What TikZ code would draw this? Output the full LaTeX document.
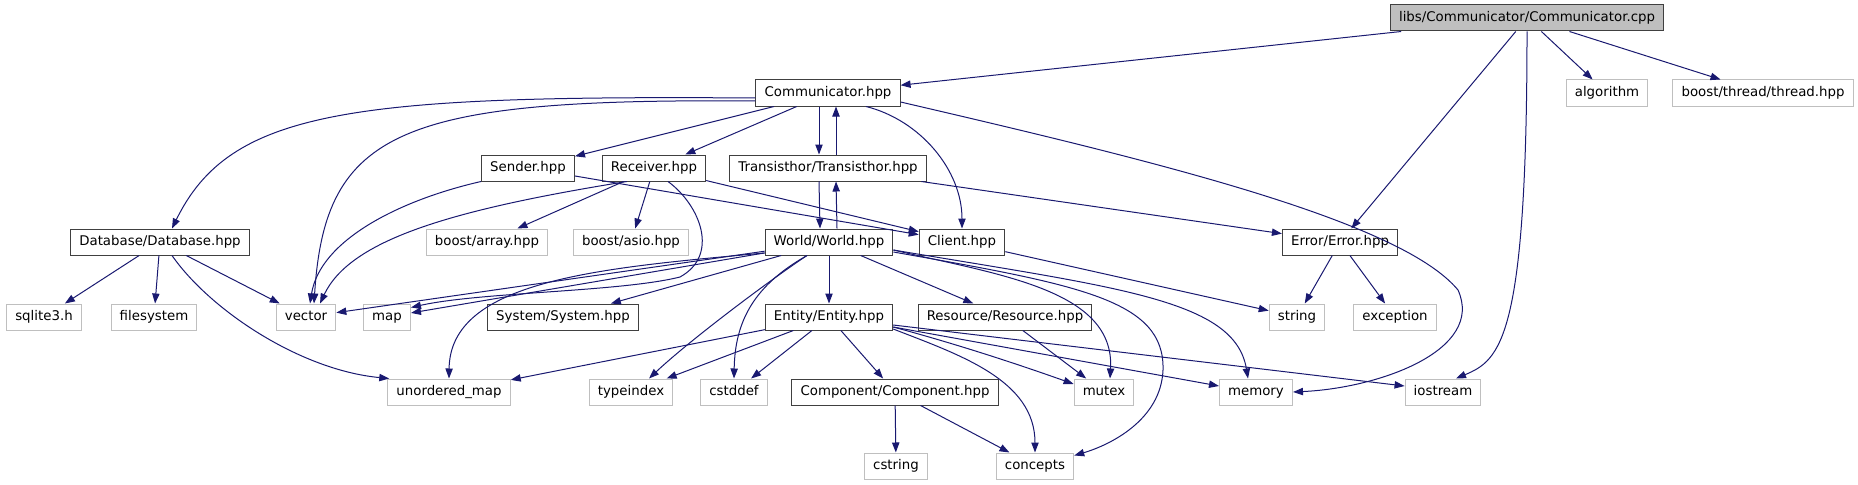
\documentclass[tikz,border=0pt]{standalone}
\usepackage{fontspec}
\setmainfont{DejaVu Sans}
\usetikzlibrary{arrows.meta,calc}
\definecolor{edgeblue}{RGB}{25,25,112}
\definecolor{docborder}{RGB}{64,64,64}
\definecolor{extborder}{RGB}{191,191,191}
\definecolor{rootfill}{RGB}{191,191,191}

\begin{document}
\begin{tikzpicture}[x=0.75pt, y=-0.75pt,
    every node/.style={rectangle, minimum height=19.5pt, inner xsep=6.5pt, inner ysep=0pt,
        text height=7.4pt, text depth=2pt, line width=0.75pt, font=\fontsize{10}{12}\selectfont},
    docfile/.style={draw=docborder, fill=white},
    extfile/.style={draw=extborder, fill=white},
    rootfile/.style={draw=docborder, fill=rootfill},
    inc/.style={draw=edgeblue, line width=0.75pt, -{Triangle[length=7.5pt,width=5.5pt]}}]
        \useasboundingbox (0,0) rectangle (1858,485);

        % Files, row by row
        \node[rootfile] (cpp) at (1527,18) {libs/Communicator/Communicator.cpp};

        \node[docfile] (commh) at (828,93) {Communicator.hpp};
        \node[extfile] (algo) at (1607,93) {algorithm};
        \node[extfile] (thread) at (1763,93) {boost/thread/thread.hpp};

        \node[docfile] (sender) at (528,168) {Sender.hpp};
        \node[docfile] (receiver) at (654,168) {Receiver.hpp};
        \node[docfile] (trans) at (828,168) {Transisthor/Transisthor.hpp};

        \node[docfile] (database) at (160,242) {Database/Database.hpp};
        \node[extfile] (array) at (487,242) {boost/array.hpp};
        \node[extfile] (asio) at (631,242) {boost/asio.hpp};
        \node[docfile] (world) at (829,242) {World/World.hpp};
        \node[docfile] (client) at (962,242) {Client.hpp};
        \node[docfile] (error) at (1340,242) {Error/Error.hpp};

        \node[extfile] (sqlite) at (44,317) {sqlite3.h};
        \node[extfile] (filesys) at (154,317) {filesystem};
        \node[extfile] (vector) at (306,317) {vector};
        \node[extfile] (map) at (387,317) {map};
        \node[docfile] (system) at (563,317) {System/System.hpp};
        \node[docfile] (entity) at (829,317) {Entity/Entity.hpp};
        \node[docfile] (resource) at (1005,317) {Resource/Resource.hpp};
        \node[extfile] (string) at (1297,317) {string};
        \node[extfile] (exception) at (1395,317) {exception};

        \node[extfile] (umap) at (449,392) {unordered\_map};
        \node[extfile] (typeindex) at (631,392) {typeindex};
        \node[extfile] (cstddef) at (734,392) {cstddef};
        \node[docfile] (component) at (895,392) {Component/Component.hpp};
        \node[extfile] (mutex) at (1104,392) {mutex};
        \node[extfile] (memory) at (1256,392) {memory};
        \node[extfile] (iostream) at (1443,392) {iostream};

        \node[extfile] (cstring) at (896,466) {cstring};
        \node[extfile] (concepts) at (1035,466) {concepts};

        % Communicator.cpp
        \draw[inc] (cpp) -- (commh);
        \draw[inc] (cpp) -- (error);
        \draw[inc] (cpp.south) .. controls (1527,340) and (1500,360) .. ($(iostream.north)+(13,0)$);
        \draw[inc] (cpp) -- (algo);
        \draw[inc] (cpp) -- (thread);

        % Communicator.hpp
        \draw[inc] ($(commh.west)+(0,5)$) .. controls (350,95) and (230,110) .. ($(database.north)+(12,0)$);
        \draw[inc] ($(commh.west)+(0,8)$) .. controls (400,98) and (325,130) .. ($(vector.north)+(8,0)$);
        \draw[inc] (commh) -- (sender);
        \draw[inc] (commh) -- (receiver);
        \draw[inc] ($(commh.south)+(-9,0)$) -- ($(trans.north)+(-9,0)$);
        \draw[inc] ($(commh.south)+(38,0)$) .. controls (920,120) and (962,170) .. (client.north);
        \draw[inc] ($(commh.east)+(0,9)$) .. controls (1150,160) and (1400,220) .. (1458,290)
            .. controls (1485,350) and (1380,388) .. (memory.east);

        % Transisthor.hpp
        \draw[inc] ($(trans.north)+(8,0)$) -- ($(commh.south)+(8,0)$);
        \draw[inc] ($(trans.south)+(-9,0)$) -- ($(world.north)+(-9,0)$);
        \draw[inc] (trans) -- (error);

        % Sender.hpp and Receiver.hpp
        \draw[inc] (sender.south west) .. controls (400,200) and (320,240) .. ($(vector.north)+(4,0)$);
        \draw[inc] (sender) -- (client);
        \draw[inc] ($(receiver.south west)+(25,0)$) .. controls (450,210) and (350,240) .. ($(vector.north)+(14,0)$);
        \draw[inc] (receiver) -- (array);
        \draw[inc] (receiver) -- (asio);
        \draw[inc] ($(receiver.south)+(14,0)$) .. controls (700,205) and (720,255) .. (680,277)
            .. controls (620,292) and (480,292) .. ($(map.north east)+(0,4)$);
        \draw[inc] (receiver) -- (client);

        % Database.hpp
        \draw[inc] (database) -- (sqlite);
        \draw[inc] (database) -- (filesys);
        \draw[inc] (database) -- (vector);
        \draw[inc] ($(database.south)+(12,0)$) .. controls (210,310) and (300,370) .. ($(umap.north west)+(2,0)$);

        % World.hpp
        \draw[inc] ($(world.north)+(8,0)$) -- ($(trans.south)+(8,0)$);
        \draw[inc] (world) -- (vector);
        \draw[inc] (world) -- (map);
        \draw[inc] ($(world.west)+(0,11)$) .. controls (600,268) and (450,280) .. (umap.north);
        \draw[inc] (world) -- (system);
        \draw[inc] (world) -- (entity);
        \draw[inc] (world) -- (resource);
        \draw[inc] ($(world.south)+(-22,0)$) .. controls (770,280) and (690,340) .. ($(typeindex.north)+(18,0)$);
        \draw[inc] ($(world.south)+(-22,0)$) .. controls (755,285) and (735,320) .. (cstddef.north);
        \draw[inc] ($(world.east)+(0,8)$) .. controls (1000,275) and (1115,290) .. ($(mutex.north)+(6,0)$);
        \draw[inc] ($(world.east)+(0,8)$) .. controls (1120,288) and (1235,300) .. ($(memory.north)+(-8,0)$);
        \draw[inc] ($(world.east)+(0,10)$) .. controls (1080,285) and (1165,300) .. (1163,370)
            .. controls (1161,420) and (1110,445) .. ($(concepts.north east)+(0,3)$);

        % Entity.hpp
        \draw[inc] (entity) -- (umap);
        \draw[inc] (entity) -- (typeindex);
        \draw[inc] (entity) -- (cstddef);
        \draw[inc] (entity) -- (component);
        \draw[inc] ($(entity.east)+(0,10)$) .. controls (960,345) and (1020,365) .. ($(mutex.west)+(0,-8)$);
        \draw[inc] ($(entity.east)+(0,10)$) -- ($(memory.west)+(0,-6)$);
        \draw[inc] ($(entity.east)+(0,8)$) -- ($(iostream.west)+(0,-6)$);
        \draw[inc] ($(entity.east)+(0,12)$) .. controls (960,355) and (1035,380) .. (concepts.north);

        % the rest
        \draw[inc] (resource) -- (mutex);
        \draw[inc] (component) -- (cstring);
        \draw[inc] (component) -- (concepts);
        \draw[inc] (client) -- (string);
        \draw[inc] (error) -- (string);
        \draw[inc] (error) -- (exception);
    \end{tikzpicture}
\end{document}
